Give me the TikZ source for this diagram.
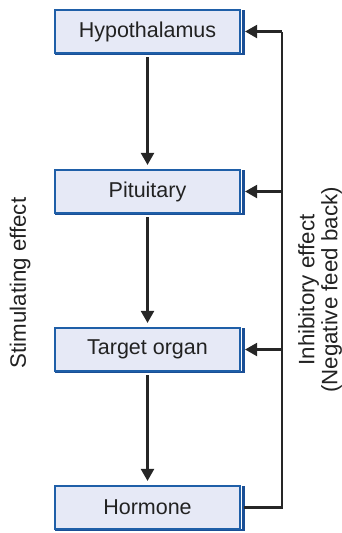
\documentclass[tikz,border=0pt]{standalone}
\usepackage{fontspec}
\setmainfont{Liberation Sans}
\usetikzlibrary{arrows.meta}
\definecolor{boxfill}{HTML}{E6E9F6}
\definecolor{boxborder}{HTML}{1F5FA8}
\definecolor{boxshadow}{HTML}{1A4F96}
\definecolor{txt}{HTML}{222222}
\tikzset{
  organ/.style={draw=boxborder, line width=2.2pt, fill=boxfill, minimum width=185pt, minimum height=43pt,
    inner sep=0pt, text=txt, font=\fontsize{21.5}{24}\selectfont,
    append after command={\pgfextra{\fill[boxshadow] ([xshift=1pt,yshift=-1pt]\tikzlastnode.south west) rectangle ([xshift=4pt,yshift=1pt]\tikzlastnode.south east);
      \fill[boxshadow] ([xshift=1pt,yshift=-1pt]\tikzlastnode.north east) rectangle ([xshift=4pt,yshift=1pt]\tikzlastnode.south east);}}},
  link/.style={line width=2.2pt, draw=black!85, -{Triangle[length=12pt,width=13pt]}},
  side/.style={rotate=90, text=txt, font=\fontsize{22.3}{23}\selectfont, align=center}
}
\begin{document}
\begin{tikzpicture}[x=1pt,y=-1pt]
\useasboundingbox (0,0) rectangle (342,533);
\node[organ] (hyp) at (147.5,31.5) {Hypothalamus};
\node[organ] (pit) at (147.5,191.5) {Pituitary};
\node[organ] (tar) at (147.5,349.5) {Target organ};
\node[organ] (hor) at (147.5,507.5) {Hormone};
\coordinate (c1) at (282,31.5);
\coordinate (c2) at (282,191.5);
\coordinate (c3) at (282,349.5);
\coordinate (c4) at (282,507.5);
\draw[link] ([yshift=-3pt]hyp.south) -- ([yshift=4pt]pit.north);
\draw[link] ([yshift=-3pt]pit.south) -- ([yshift=4pt]tar.north);
\draw[link] ([yshift=-3pt]tar.south) -- ([yshift=4pt]hor.north);
\draw[line width=2.2pt, draw=black!85] ([xshift=3pt]hor.east) -- (c4) -- (c1);
\draw[link] (c1) -- ([xshift=4pt]hyp.east);
\draw[link] (c2) -- ([xshift=4pt]pit.east);
\draw[link] (c3) -- ([xshift=4pt]tar.east);
\node[side] (stim) at (20,283) {Stimulating effect};
\node[side] (inh) at (320,290) {Inhibitory effect\\(Negative feed back)};
\end{tikzpicture}
\end{document}
